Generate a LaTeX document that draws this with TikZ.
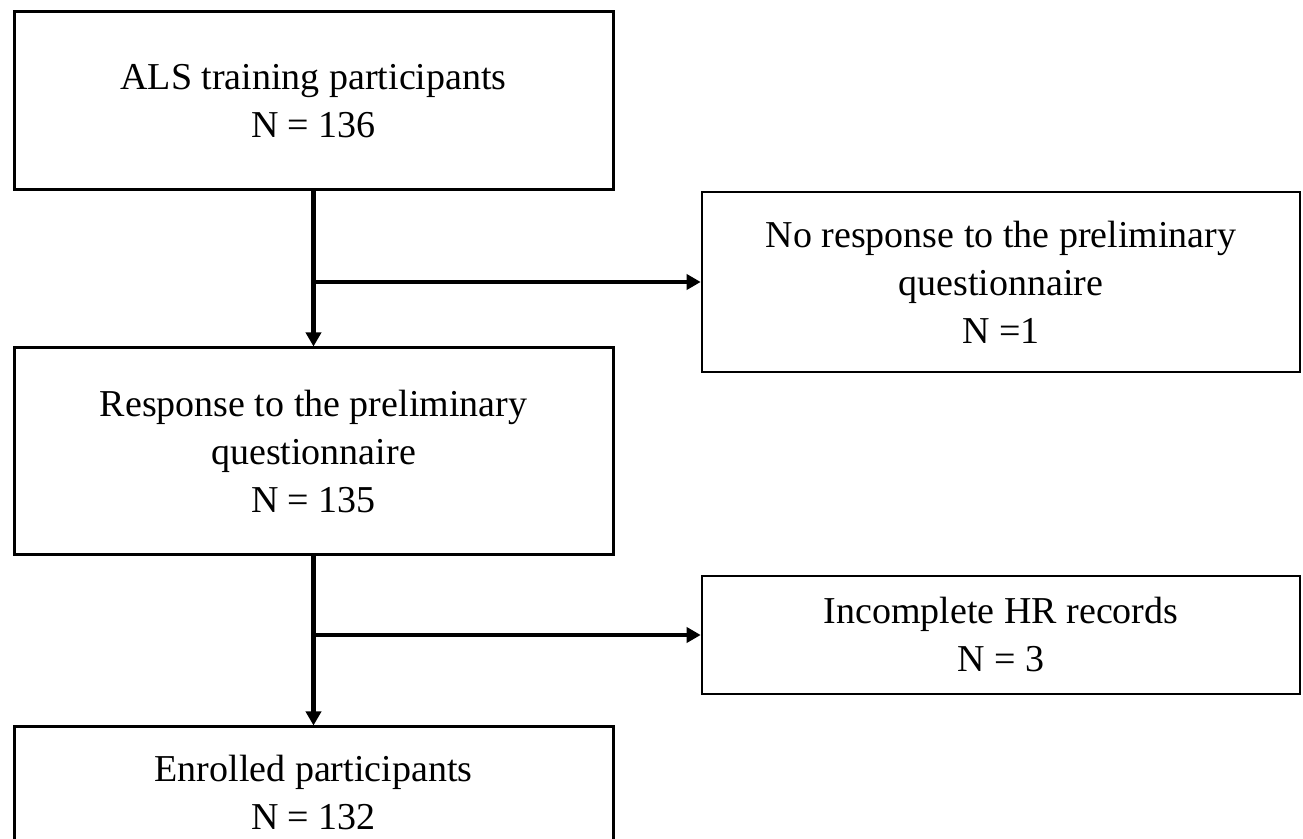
\documentclass[tikz,border=0pt]{standalone}
\usepackage{fontspec}
\setmainfont{Liberation Serif}
\usetikzlibrary{arrows.meta}

\begin{document}
\begin{tikzpicture}[x=0.5pt, y=-0.5pt,
    box/.style={draw, line width=1.5pt, align=center, inner sep=0pt,
      font=\fontsize{19}{24}\selectfont},
    flow/.style={line width=2.3pt, -{Triangle[length=7pt, width=7.5pt]}}]
  \clip (0, 0) rectangle (1303, 839);

  \node [box, minimum width=299.5pt, minimum height=89pt] (als) at (313.5, 101)
    {ALS training participants\\N = 136};
  \node [box, line width=1.3pt, minimum width=299pt, minimum height=90pt] (norsp) at (1001, 282)
    {No response to the preliminary\\questionnaire\\N =1};
  \node [box, minimum width=299.5pt, minimum height=103.5pt] (rsp) at (313.5, 451.5)
    {Response to the preliminary\\questionnaire\\N = 135};
  \node [box, line width=1.3pt, minimum width=299pt, minimum height=59pt] (hr) at (1001, 635)
    {Incomplete HR records\\N = 3};
  \node [box, minimum width=299.5pt, minimum height=80pt, text depth=15pt] (enr) at (313.5, 807)
    {Enrolled participants\\N = 132};

  \coordinate (j1) at (313.5, 282);
  \coordinate (j2) at (313.5, 635);

  \draw [flow] (als.south) -- (rsp.north);
  \draw [flow] (j1) -- (norsp.west);
  \draw [flow] (rsp.south) -- (enr.north);
  \draw [flow] (j2) -- (hr.west);
\end{tikzpicture}
\end{document}
